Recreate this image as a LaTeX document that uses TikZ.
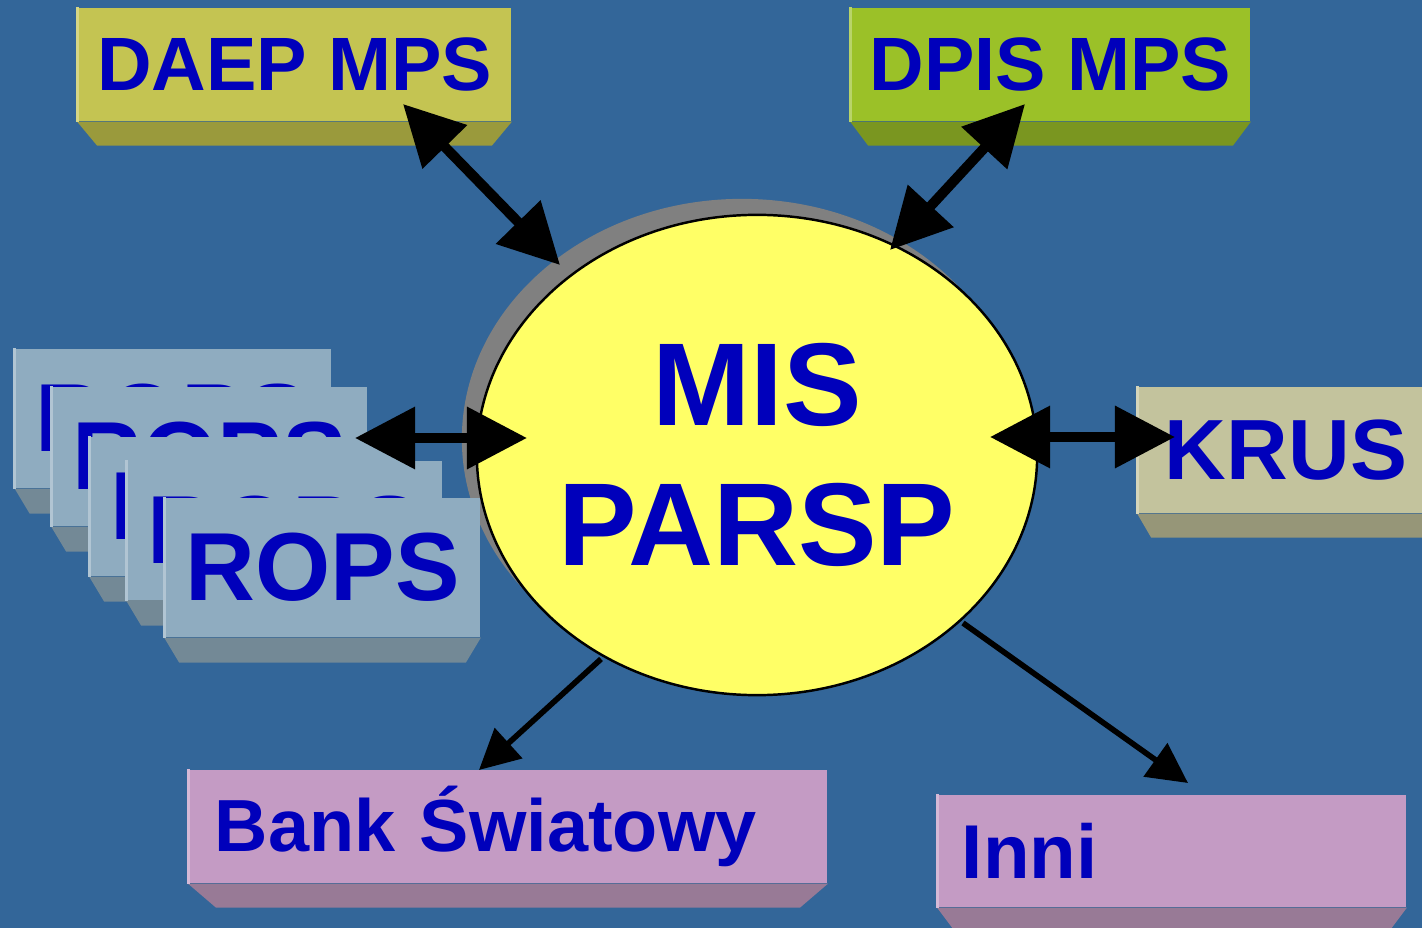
\documentclass[tikz,border=0pt]{standalone}
\usepackage{fontspec}
\setmainfont{Liberation Sans}
\usetikzlibrary{positioning,
				arrows.meta,
				shapes.geometric}
\definecolor{bg}{RGB}{51,102,153}
\definecolor{txtblue}{RGB}{0,0,187}
\definecolor{hubfill}{RGB}{255,255,102}
\definecolor{shade}{RGB}{128,128,128}
\definecolor{daepface}{RGB}{196,196,82}
\definecolor{daepside}{RGB}{154,154,60}
\definecolor{dpisface}{RGB}{155,193,40}
\definecolor{dpisside}{RGB}{122,150,32}
\definecolor{krusface}{RGB}{195,195,157}
\definecolor{krusside}{RGB}{150,150,120}
\definecolor{ropsface}{RGB}{143,172,192}
\definecolor{ropsside}{RGB}{115,137,150}
\definecolor{otherface}{RGB}{196,155,196}
\definecolor{otherside}{RGB}{152,122,150}

\begin{document}
\begin{tikzpicture}[x=0.01cm,y=-0.01cm,
		slab/.style={rectangle, inner sep=0pt, minimum height=1.13cm, text=txtblue,
			font=\bfseries\fontsize{21.5}{26}\selectfont},
		hub/.style={ellipse, inner sep=0pt, minimum width=5.6cm, minimum height=4.8cm},
		twoway/.style={line width=2.85pt,
			{Triangle[length=0.6cm,width=0.6cm]}-{Triangle[length=0.6cm,width=0.6cm]}},
		oneway/.style={line width=1.6pt, -{Triangle[length=0.4cm,width=0.4cm]}}]
		\useasboundingbox (0,0) rectangle (1422,928);
		\fill[bg] (0,0) rectangle (1422,928);
		\node[hub, fill=shade] (mis-shadow) at (742,439) {};
		\foreach \x/\y [count=\i] in {173/418.5, 209.5/456.5, 247.5/506.5, 284.5/530.5, 322.5/567.5} {
			\node[slab, fill=ropsface, minimum width=3.15cm, minimum height=1.39cm,
				font=\bfseries\fontsize{27.5}{33}\selectfont] (rops\i) at (\x,\y) {ROPS};
			\fill[ropsside] (rops\i.south west) -- (rops\i.south east) -- ([shift={(-15,25)}]rops\i.south east)
				-- ([shift={(15,25)}]rops\i.south west) -- cycle;
			\draw[ropsface!70!white, line width=0.8pt] (rops\i.south west) -- (rops\i.north west);
		}
		\node[slab, fill=daepface, minimum width=4.33cm] (daep) at (294.5,64.5) {DAEP MPS};
		\node[slab, fill=dpisface, minimum width=3.99cm] (dpis) at (1050.5,64.5) {DPIS MPS};
		\node[slab, fill=krusface, minimum height=1.26cm, text width=2.56cm, inner xsep=0.27cm, align=left,
			font=\bfseries\fontsize{24.3}{29}\selectfont] (krus) at (1293,450) {KRUS};
		\node[slab, fill=otherface, text width=5.86cm, inner xsep=0.26cm, align=left,
			font=\bfseries\fontsize{21}{25}\selectfont] (bank) at (508,826.5) {Bank Światowy};
		\node[slab, fill=otherface, minimum height=1.12cm, text width=4.20cm, inner xsep=0.24cm, align=left,
			font=\bfseries\fontsize{21.7}{26}\selectfont] (inni) at (1172,851) {Inni};
		\foreach \n/\f/\s/\d in {daep/daepface/daepside/20, dpis/dpisface/dpisside/18, krus/krusface/krusside/14,
				bank/otherface/otherside/28, inni/otherface/otherside/18} {
			\fill[\s] (\n.south west) -- (\n.south east) -- ([shift={(-\d,24)}]\n.south east)
				-- ([shift={(\d,24)}]\n.south west) -- cycle;
			\draw[\f!70!white, line width=0.8pt] (\n.south west) -- (\n.north west);
		}
		\node[hub, fill=hubfill, draw=black, line width=0.7pt] (mis) at (757,455) {};
		\node[text=txtblue, align=center, font=\bfseries\fontsize{33.5}{40}\selectfont] (mis-label) at (mis.center) {MIS\\PARSP};
		\coordinate (daep-end) at (403,104);
		\coordinate (mis-nw) at (560,265);
		\coordinate (dpis-end) at (1025,104);
		\coordinate (mis-ne) at (890,250);
		\coordinate (rops-end) at (355,438);
		\coordinate (mis-w) at (527,438);
		\coordinate (mis-e) at (990,437);
		\coordinate (krus-end) at (1175,437);
		\coordinate (mis-sw) at (601,659);
		\coordinate (bank-end) at (479,770);
		\coordinate (mis-se) at (963,623);
		\coordinate (inni-end) at (1188,783);
		\draw[twoway] (daep-end) -- (mis-nw);
		\draw[twoway] (dpis-end) -- (mis-ne);
		\draw[twoway] (rops-end) -- (mis-w);
		\draw[twoway] (mis-e) -- (krus-end);
		\draw[oneway] (mis-sw) -- (bank-end);
		\draw[oneway] (mis-se) -- (inni-end);
	\end{tikzpicture}
\end{document}
